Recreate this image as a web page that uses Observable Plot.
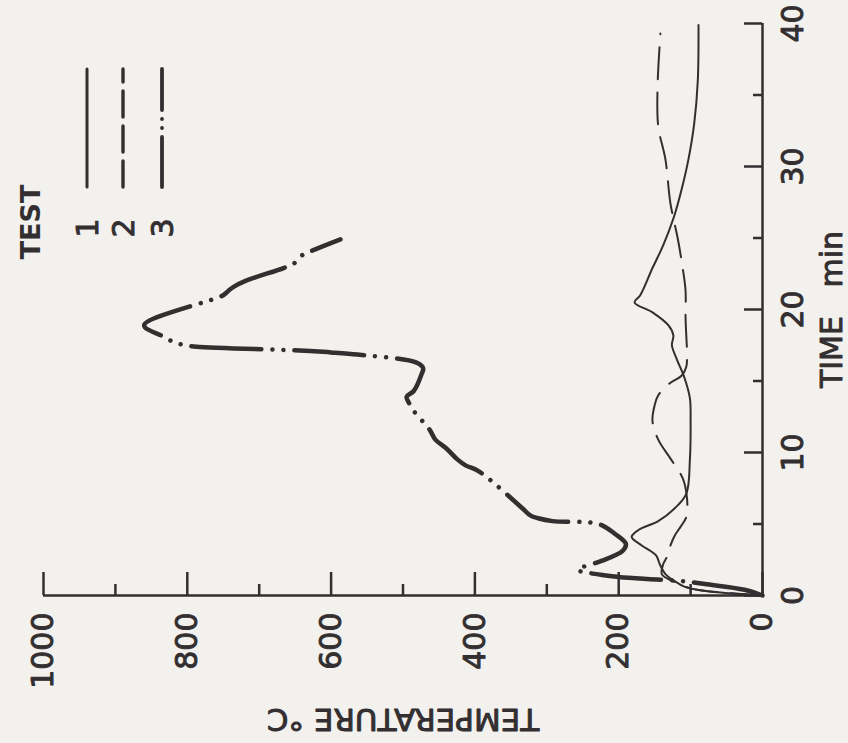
<!DOCTYPE html>
<html><head><meta charset="utf-8">
<script src="https://cdn.jsdelivr.net/npm/d3@7"></script>
<script src="https://cdn.jsdelivr.net/npm/@observablehq/plot@0.6"></script>
<style>
html,body{margin:0;padding:0;background:#f2f1ee;}
#wrap{position:relative;width:848px;height:743px;overflow:hidden;}
#wrap svg{position:absolute;left:0;top:0;}
</style></head><body><div id="wrap"></div>
<script>
// ---- data ----
const tempTicks = [0, 200, 400, 600, 800, 1000];
const tempMinor = [100, 300, 500, 700, 900];
const timeTicks = [0, 10, 20, 30, 40];
const timeMinor = [5, 15, 25, 35];
const xTitle = "TEMPERATURE °C";
const yTitle = "TIME\u00a0\u00a0\u00a0min";
const legendTitle = "TEST";
const seriesNames = ["1", "2", "3"];

const test1Time = [0, 0.15, 0.35, 0.6, 1.0, 1.5, 2.2, 2.8, 3.5, 4.1, 4.6, 5.2, 6.1, 7.1, 9.5, 12.2, 13.8, 15.3, 16.5, 17.5, 18.2, 18.9, 19.8, 20.5, 21.0, 22.9, 24.5, 26.5, 28.5, 30.5, 33.0, 36.0, 39.9];
const test1Temp = [0, 45, 85, 108, 122, 135, 143, 148, 168, 182, 172, 145, 122, 106, 101, 100, 101, 109, 119, 126, 124, 131, 153, 178, 170, 153, 138, 123, 112, 103, 95, 90, 89];

const test2Time = [0, 0.2, 0.5, 1.0, 1.5, 2.2, 2.8, 3.5, 4.2, 4.8, 5.5, 6.8, 8.2, 9.5, 10.9, 12.2, 13.3, 14.0, 14.8, 15.4, 16.0, 16.8, 19.4, 21.3, 22.9, 25.0, 27.4, 30.5, 32.8, 35.5, 39.3];
const test2Temp = [0, 55, 100, 125, 140, 138, 132, 128, 122, 114, 106, 105, 111, 127, 145, 153, 150, 145, 130, 112, 106, 105, 107, 107, 111, 118, 128, 135, 145, 146, 142];

const test3Time = [0, 0.4, 0.8, 1.0, 1.15, 1.3, 1.45, 1.8, 2.4, 3.1, 3.6, 4.3, 5.0, 5.2, 5.4, 5.6, 6.1, 8.7, 9.1, 9.5, 10.3, 10.9, 11.6, 12.9, 13.5, 13.9, 14.3, 15.5, 15.9, 16.3, 16.9, 17.0, 17.1, 17.4, 17.5, 17.7, 18.1, 18.9, 21.0, 21.3, 21.6, 22.0, 22.9, 23.2, 23.8, 24.2, 24.9];
const test3Temp = [0, 25, 80, 110, 160, 200, 225, 257, 225, 195, 190, 205, 228, 292, 312, 323, 334, 395, 413, 424, 440, 455, 463, 485, 492, 495, 485, 474, 472, 482, 576, 600, 629, 787, 802, 818, 833, 860, 750, 743, 735, 719, 666, 652, 640, 622, 587];

// ---- layout & style ----
const W = 848, H = 743, mT = 23, mB = 148, mL = 43, mR = 86;
const frameH = H - mT - mB, frameW = W - mL - mR;
const ink = "#332e30";
const font = "DejaVu Sans";
const styles = [
  {strokeWidth: 2, strokeDasharray: null, legendWidth: 3, legendDash: null},
  {strokeWidth: 2, strokeDasharray: "32,13", legendWidth: 3.4, legendDash: "26,9"},
  {strokeWidth: 4.5, strokeDasharray: "70,11,0.01,11,0.01,11", legendWidth: 3.8, legendDash: "50,9,0.01,9,0.01,9"}
];

const toRows = (times, temps, name) => times.map((t, i) => ({time: t, temp: temps[i], test: name}));
const seriesRows = [
  toRows(test1Time, test1Temp, seriesNames[0]),
  toRows(test2Time, test2Temp, seriesNames[1]),
  toRows(test3Time, test3Temp, seriesNames[2])
];

const textBase = {fill: ink, stroke: ink, strokeWidth: 0.9, fontFamily: font, fontSize: 30};

const chart = Plot.plot({
  width: W, height: H,
  marginTop: mT, marginBottom: mB, marginLeft: mL, marginRight: mR,
  style: {background: "transparent", fontFamily: font, color: ink},
  x: {domain: [0, 1000], reverse: true, axis: null},
  y: {domain: [0, 40], axis: null},
  marks: [
    Plot.ruleY([0], {stroke: ink, strokeWidth: 2.5}),
    Plot.ruleX([0], {stroke: ink, strokeWidth: 2.5}),
    Plot.tickX(tempTicks, {x: d => d, stroke: ink, strokeWidth: 2.5, insetTop: frameH - 23}),
    Plot.tickX(tempMinor, {x: d => d, stroke: ink, strokeWidth: 2.5, insetTop: frameH - 11}),
    Plot.tickY(timeTicks, {y: d => d, stroke: ink, strokeWidth: 2.5, insetLeft: frameW - 18}),
    Plot.tickY(timeMinor, {y: d => d, stroke: ink, strokeWidth: 2.5, insetLeft: frameW - 9}),
    Plot.text(tempTicks, {x: d => d, text: d => String(d), frameAnchor: "bottom", dy: 17,
      rotate: -90, textAnchor: "end", lineAnchor: "middle", ...textBase}),
    Plot.text(timeTicks, {y: d => d, text: d => String(d), frameAnchor: "right", dx: 19,
      rotate: -90, textAnchor: "middle", lineAnchor: "top", ...textBase}),
    Plot.text([yTitle], {text: d => d, frameAnchor: "right", dx: 70, rotate: -90,
      textAnchor: "middle", lineAnchor: "middle", ...textBase}),
    Plot.text([xTitle], {text: d => d, frameAnchor: "bottom", dy: 123, rotate: 180,
      textAnchor: "middle", lineAnchor: "middle", ...textBase, fontSize: 31}),
    ...seriesRows.map((rows, i) => Plot.line(rows, {
      x: "temp", y: "time", stroke: ink, strokeWidth: styles[i].strokeWidth,
      strokeDasharray: styles[i].strokeDasharray, strokeLinecap: "round", strokeLinejoin: "round",
      curve: "catmull-rom"
    }))
  ]
});

const wrap = document.getElementById("wrap");
wrap.appendChild(chart);

// ---- legend (overlay) ----
const legCols = [87, 123, 162];
const legLineTop = 69, legLineBottom = 187, legLabelY = 228;
const leg = d3.create("svg").attr("width", W).attr("height", H).style("pointer-events", "none");
leg.append("text")
  .attr("transform", "translate(30,222) rotate(-90)")
  .attr("text-anchor", "middle").attr("dominant-baseline", "central")
  .attr("font-family", font).attr("font-weight", "bold").attr("font-size", 27)
  .attr("fill", ink).text(legendTitle);
seriesNames.forEach((name, i) => {
  const x = legCols[i];
  leg.append("text")
    .attr("transform", `translate(${x},${legLabelY}) rotate(-90)`)
    .attr("text-anchor", "middle").attr("dominant-baseline", "central")
    .attr("font-family", font).attr("font-size", 30).attr("fill", ink)
    .attr("stroke", ink).attr("stroke-width", 0.9).text(name);
  leg.append("line")
    .attr("x1", x).attr("x2", x).attr("y1", legLineBottom).attr("y2", legLineTop)
    .attr("stroke", ink).attr("stroke-width", styles[i].legendWidth)
    .attr("stroke-linecap", "round")
    .attr("stroke-dasharray", styles[i].legendDash);
});
wrap.appendChild(leg.node());
</script></body></html>
